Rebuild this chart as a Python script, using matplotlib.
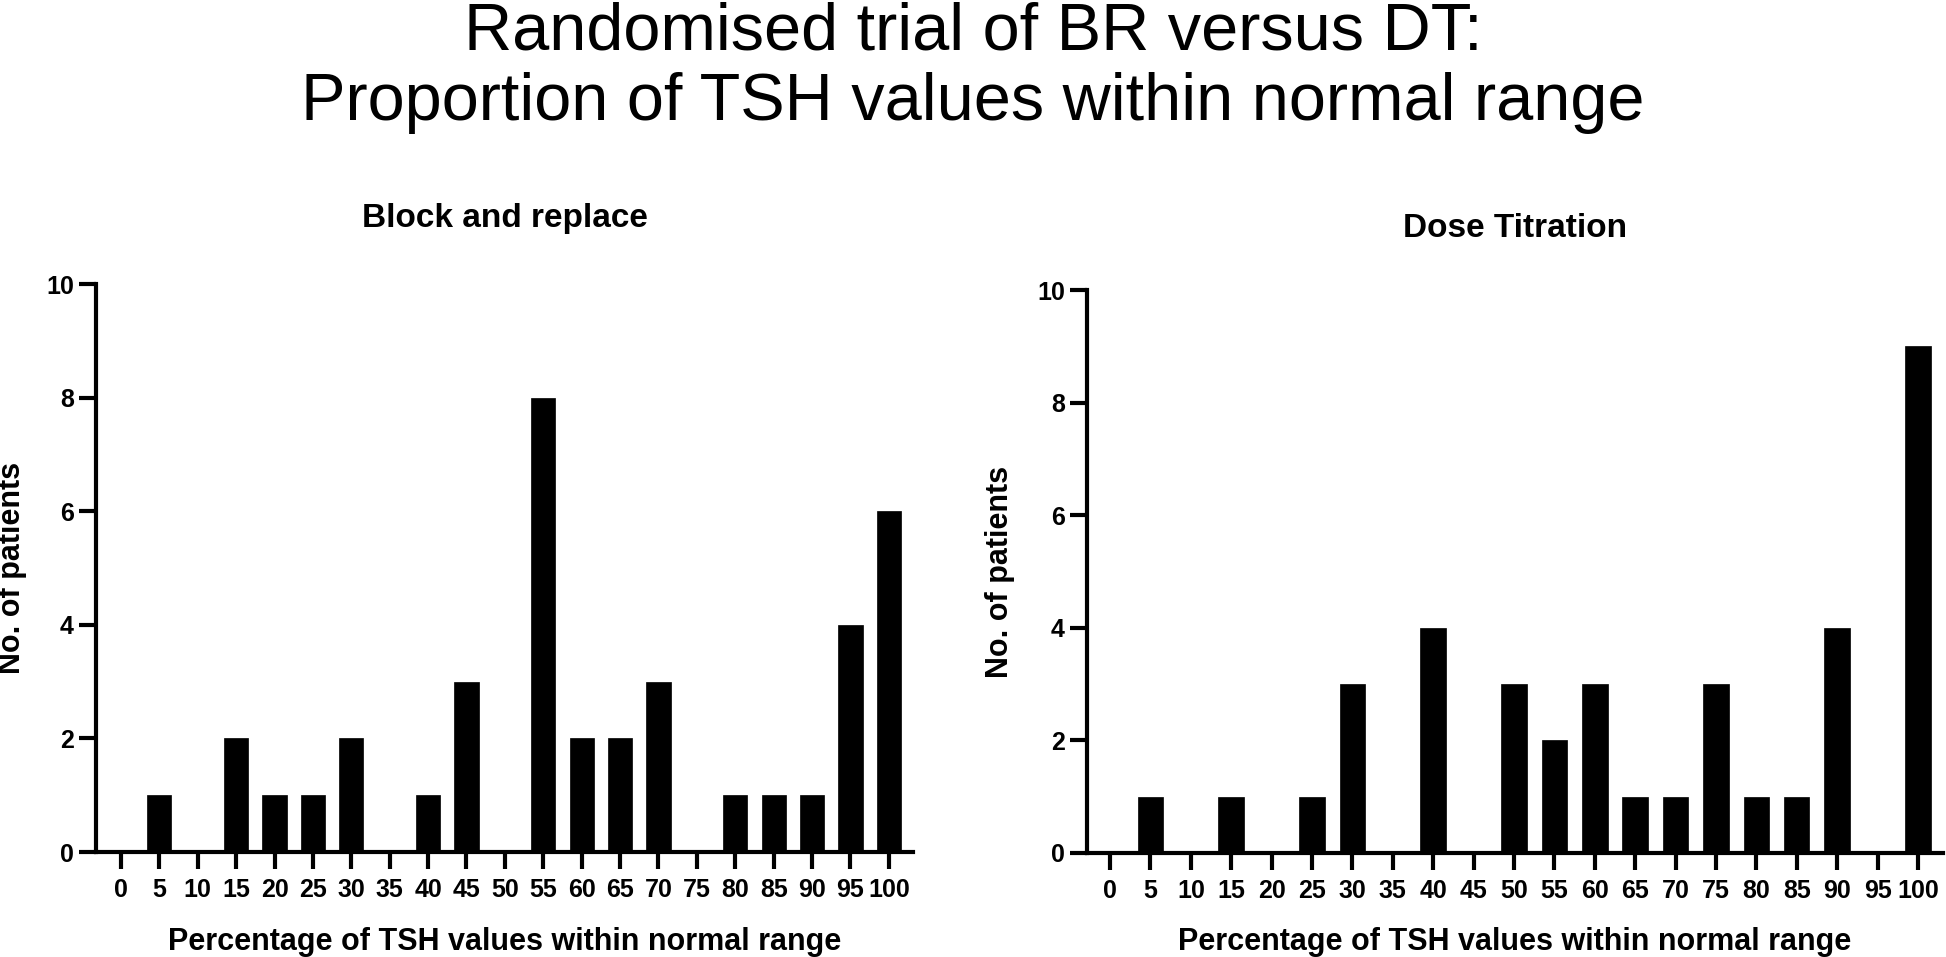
import matplotlib.pyplot as plt

plt.rcParams['font.family'] = ['Liberation Sans', 'DejaVu Sans']

# categories: percentage of TSH values within normal range
categories = [str(v) for v in range(0, 101, 5)]
br_counts = [0, 1, 0, 2, 1, 1, 2, 0, 1, 3, 0, 8, 2, 2, 3, 0, 1, 1, 1, 4, 6]
dt_counts = [0, 1, 0, 1, 0, 1, 3, 0, 4, 0, 3, 2, 3, 1, 1, 3, 1, 1, 4, 0, 9]
yticks = [0, 2, 4, 6, 8, 10]

W, H = 1946, 957


def draw_panel(ax, counts, title, xlim, pad):
    x = list(range(len(categories)))
    ax.bar(x, counts, width=0.63, color='black', edgecolor='black', linewidth=0.5)
    ax.set_xlim(*xlim)
    ax.set_ylim(0, 10)
    ax.set_xticks(x)
    ax.set_xticklabels(categories, fontsize=18, fontweight='bold')
    ax.set_yticks(yticks)
    ax.set_yticklabels([str(t) for t in yticks], fontsize=18, fontweight='bold')
    for s in ['top', 'right']:
        ax.spines[s].set_visible(False)
    for s in ['left', 'bottom']:
        ax.spines[s].set_linewidth(3)
    ax.spines['left'].set_bounds(0, 10)
    ax.tick_params(axis='both', length=12, width=3, direction='out')
    ax.tick_params(axis='x', pad=7)
    ax.tick_params(axis='y', pad=4)
    ax.set_ylabel('No. of patients', fontsize=22, fontweight='bold')
    ax.yaxis.set_label_coords(-0.084, 0.5)
    ax.set_xlabel('Percentage of TSH values within normal range', fontsize=22, fontweight='bold')
    ax.xaxis.set_label_coords(0.5, -0.132)
    ax.set_title(title, fontsize=24, fontweight='bold', pad=pad)


fig = plt.figure(figsize=(W / 100, H / 100), dpi=100)

ax1 = fig.add_axes([96 / W, 1 - 852 / H, 817 / W, 568 / H])
ax2 = fig.add_axes([1087 / W, 1 - 853 / H, 856 / W, 563 / H])

draw_panel(ax1, br_counts, 'Block and replace', (-0.65, 20.63), 41)
draw_panel(ax2, dt_counts, 'Dose Titration', (-0.57, 20.62), 38)

fig.text(0.5, 1 - 50 / H, 'Randomised trial of BR versus DT:', ha='center', va='baseline', fontsize=48)
fig.text(0.5, 1 - 120 / H, 'Proportion of TSH values within normal range', ha='center', va='baseline', fontsize=48)

fig.savefig('out.png', dpi=100)
